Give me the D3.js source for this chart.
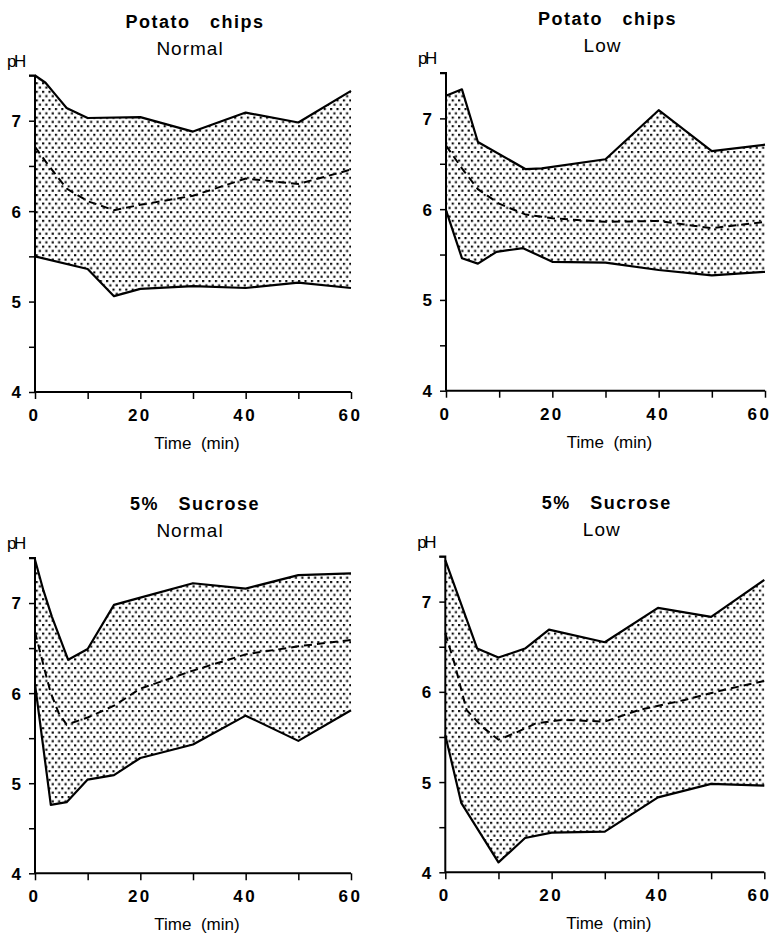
<!DOCTYPE html>
<html>
<head>
<meta charset="utf-8">
<script src="https://cdn.jsdelivr.net/npm/d3@7"></script>
<style>
  body { margin: 0; background: #fff; }
  svg text { font-family: "Liberation Sans", Arial, sans-serif; fill: #000; }
</style>
</head>
<body>
<svg id="chart" width="772" height="935"></svg>
<script>
// pH readings, [time (min), pH]
const chipsNormalUpper = [[0,7.5],[2,7.42],[4,7.28],[6,7.14],[10,7.03],[20,7.04],[30,6.88],[40,7.09],[50,6.98],[60,7.33]];
const chipsNormalLower = [[0,5.5],[10,5.36],[15,5.06],[20,5.14],[30,5.17],[40,5.15],[50,5.21],[60,5.15]];
const chipsNormalMean  = [[0,6.71],[2,6.55],[4,6.4],[6,6.25],[10,6.11],[15,6.01],[20,6.07],[30,6.17],[40,6.36],[50,6.3],[60,6.46]];

const chipsLowUpper = [[0,7.25],[3,7.32],[6,6.74],[15,6.44],[18,6.45],[30,6.55],[40,7.09],[50,6.64],[60,6.71]];
const chipsLowLower = [[0,5.99],[3,5.46],[6,5.4],[9.5,5.53],[14.5,5.57],[20,5.42],[30,5.41],[40,5.33],[50,5.27],[60,5.31]];
const chipsLowMean  = [[0,6.7],[3,6.45],[6,6.22],[10,6.06],[15,5.94],[20,5.9],[30,5.86],[40,5.87],[50,5.79],[60,5.86]];

const sucNormalUpper = [[0,7.48],[1.6,7.14],[3.2,6.85],[6.3,6.37],[10,6.49],[15,6.98],[20,7.06],[30,7.22],[40,7.16],[50,7.31],[60,7.33]];
const sucNormalLower = [[0,6.1],[3,4.76],[6,4.79],[10,5.04],[15,5.09],[20,5.28],[30,5.43],[40,5.75],[50,5.47],[60,5.81]];
const sucNormalMean  = [[0,6.68],[2,6.22],[3,6.0],[4.5,5.78],[6,5.65],[10,5.73],[15,5.86],[20,6.05],[30,6.25],[40,6.43],[50,6.52],[60,6.59]];

const sucLowUpper = [[0,7.46],[6,6.48],[10,6.38],[15,6.48],[19.5,6.69],[30,6.55],[40,6.93],[50,6.83],[60,7.24]];
const sucLowLower = [[0,5.52],[3,4.77],[10,4.11],[15,4.38],[20,4.44],[30,4.45],[40,4.83],[50,4.98],[60,4.96]];
const sucLowMean  = [[0,6.65],[1.7,6.32],[4,5.8],[7,5.61],[10,5.47],[13,5.54],[17,5.65],[22,5.69],[30,5.67],[36.5,5.8],[45,5.91],[51.5,6.01],[60,6.12]];

const titles    = ['Potato   chips', 'Potato   chips', '5%   Sucrose', '5%   Sucrose'];
const subtitles = ['Normal', 'Low', 'Normal', 'Low'];
const yTicks = [4, 4.5, 5, 5.5, 6, 6.5, 7, 7.5];
const yLabels = [4, 5, 6, 7];
const xTicks = [0, 10, 20, 30, 40, 50, 60];
const xLabels = [0, 20, 40, 60];

const panels = [
  {upper: chipsNormalUpper, lower: chipsNormalLower, mean: chipsNormalMean, x: [35, 351],   y: [392, 75.5]},
  {upper: chipsLowUpper,    lower: chipsLowLower,    mean: chipsLowMean,    x: [446, 765],  y: [390.7, 73]},
  {upper: sucNormalUpper,   lower: sucNormalLower,   mean: sucNormalMean,   x: [35, 351],   y: [873.3, 558]},
  {upper: sucLowUpper,      lower: sucLowLower,      mean: sucLowMean,      x: [445.3, 764.3], y: [872.3, 556.5]}
];

const svg = d3.select('#chart');

// stippled fill, staggered rows of dots
const pat = svg.append('defs').append('pattern')
  .attr('id', 'dots')
  .attr('patternUnits', 'userSpaceOnUse')
  .attr('width', 6.4)
  .attr('height', 8.6);
pat.append('rect').attr('x', 0.5).attr('y', 0.5).attr('width', 2.1).attr('height', 2.1).attr('fill', '#000');
pat.append('rect').attr('x', 3.7).attr('y', 4.8).attr('width', 2.1).attr('height', 2.1).attr('fill', '#000');

panels.forEach((p, i) => {
  const x = d3.scaleLinear().domain([0, 60]).range(p.x);
  const y = d3.scaleLinear().domain([4, 7.5]).range(p.y);
  const g = svg.append('g');
  const cx = (p.x[0] + p.x[1]) / 2;

  const line = d3.line().x(d => x(d[0])).y(d => y(d[1]));

  // band between the upper and lower curves
  const poly = p.upper.concat(p.lower.slice().reverse());
  g.append('path')
    .attr('d', line(poly) + 'Z')
    .attr('fill', 'url(#dots)')
    .attr('stroke', 'none');

  g.append('path').attr('d', line(p.upper))
    .attr('fill', 'none').attr('stroke', '#000').attr('stroke-width', 2.2).attr('stroke-linejoin', 'round');
  g.append('path').attr('d', line(p.lower))
    .attr('fill', 'none').attr('stroke', '#000').attr('stroke-width', 2.2).attr('stroke-linejoin', 'round');
  g.append('path').attr('d', line(p.mean))
    .attr('fill', 'none').attr('stroke', '#000').attr('stroke-width', 2)
    .attr('stroke-dasharray', '8,5');

  // axes
  const yAxis = d3.axisLeft(y).tickValues(yTicks).tickSize(6)
    .tickFormat(d => yLabels.includes(d) ? d : '');
  const ya = g.append('g').attr('transform', `translate(${p.x[0]},0)`).call(yAxis);
  const xAxis = d3.axisBottom(x).tickValues(xTicks).tickSize(7)
    .tickFormat(d => xLabels.includes(d) ? d : '');
  const xa = g.append('g').attr('transform', `translate(0,${p.y[0]})`).call(xAxis);

  [ya, xa].forEach(a => {
    a.select('.domain').attr('stroke', '#000').attr('stroke-width', 2);
    a.selectAll('.tick line').attr('stroke', '#000').attr('stroke-width', 1.5);
    a.selectAll('.tick text')
      .style('font-family', '"Liberation Sans", Arial, sans-serif')
      .style('font-size', '17px')
      .style('font-weight', 'bold')
      .attr('fill', '#000');
  });
  ya.select('.domain').attr('d', `M-6,${p.y[1]}H0V${p.y[0]}`);
  xa.select('.domain').attr('d', `M${p.x[0]},0H${p.x[1]}`);
  ya.selectAll('.tick text').attr('x', -14).attr('dy', '0.35em');
  xa.selectAll('.tick text').attr('y', 17).attr('dx', '-1').style('letter-spacing', '2.5px');
  // keep the right-hand "60" inside the page
  if (p.x[1] > 700) {
    xa.selectAll('.tick text').filter(d => d === 60)
      .attr('text-anchor', 'end').attr('dx', 0).attr('x', 772 - p.x[1] - 1);
  }

  // titles
  g.append('text').attr('x', cx + 2).attr('y', p.y[1] - 48)
    .attr('text-anchor', 'middle')
    .style('font-size', '18px').style('font-weight', 'bold').style('letter-spacing', '1.5px')
    .style('white-space', 'pre')
    .text(titles[i]);
  g.append('text').attr('x', cx - 3).attr('y', p.y[1] - 21)
    .attr('text-anchor', 'middle')
    .style('font-size', '19px').style('letter-spacing', '1px')
    .text(subtitles[i]);
  g.append('text').attr('x', p.x[0] - 28).attr('y', p.y[1] - 9)
    .style('font-size', '17px').style('letter-spacing', '-2.5px')
    .text('pH');
  g.append('text').attr('x', cx + 4).attr('y', p.y[0] + 57)
    .attr('text-anchor', 'middle')
    .style('font-size', '17px')
    .style('white-space', 'pre')
    .text('Time  (min)');
});
</script>
</body>
</html>
